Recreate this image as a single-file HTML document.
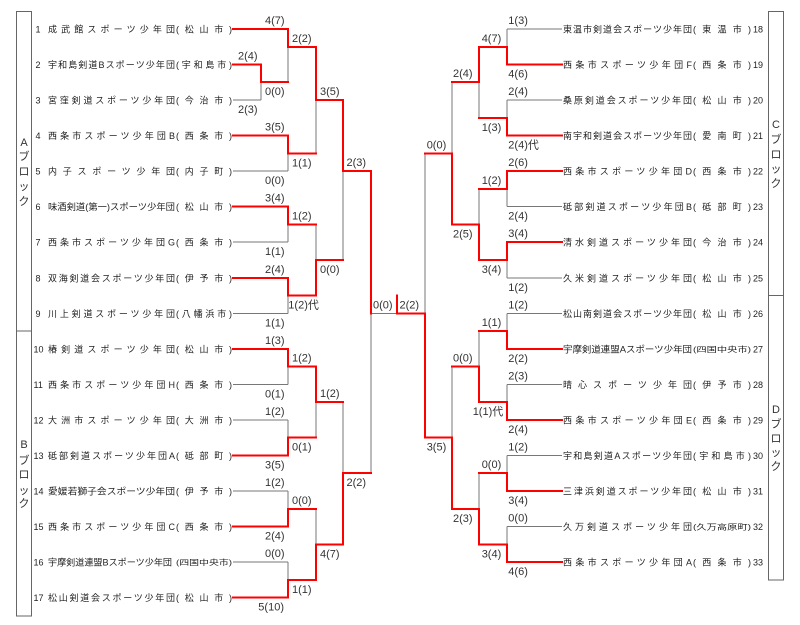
<!DOCTYPE html>
<html><head><meta charset="utf-8"><style>
html,body{margin:0;padding:0;background:#fff;}
svg{display:block;}
.n{font-family:"Liberation Sans","Noto Sans CJK JP",sans-serif;font-size:9px;fill:#222;}
.s{font-family:"Liberation Sans","Noto Sans CJK JP",sans-serif;font-size:11px;fill:#333;}
.b{font-family:"Liberation Sans","Noto Sans CJK JP",sans-serif;font-size:11px;fill:#333;text-anchor:middle;}
.g{stroke:#777;stroke-width:1;fill:none;}
.r{stroke:#ff0000;stroke-width:2;fill:none;stroke-linecap:square;stroke-linejoin:miter;}
</style></head><body>
<svg width="800" height="625" viewBox="0 0 800 625" xmlns="http://www.w3.org/2000/svg">
<rect x="16.5" y="11.5" width="15" height="604.5" fill="none" stroke="#666" stroke-width="1"/>
<line x1="16.5" y1="331" x2="31.5" y2="331" stroke="#666" stroke-width="1"/>
<rect x="768.5" y="11.5" width="15" height="568.5" fill="none" stroke="#666" stroke-width="1"/>
<line x1="768.5" y1="295.5" x2="783.5" y2="295.5" stroke="#666" stroke-width="1"/>
<g class="b">
<text x="24" y="146">A</text><text x="24" y="160">ブ</text><text x="24" y="175">ロ</text><text x="24" y="190">ッ</text><text x="24" y="205">ク</text>
<text x="24" y="448">B</text><text x="24" y="464">ブ</text><text x="24" y="478">ロ</text><text x="24" y="494">ッ</text><text x="24" y="507">ク</text>
<text x="776" y="128">C</text><text x="776" y="143">ブ</text><text x="776" y="158">ロ</text><text x="776" y="172.5">ッ</text><text x="776" y="187">ク</text>
<text x="776" y="413">D</text><text x="776" y="427.5">ブ</text><text x="776" y="442">ロ</text><text x="776" y="456">ッ</text><text x="776" y="470">ク</text>
</g>

<g class="g">
<line x1="233" y1="100" x2="261" y2="100"/><line x1="261" y1="82" x2="261" y2="100"/>
<line x1="288" y1="47" x2="288" y2="82"/>
<line x1="233" y1="171" x2="288" y2="171"/><line x1="288" y1="153.5" x2="288" y2="171"/>
<line x1="233" y1="242" x2="288" y2="242"/><line x1="288" y1="224.5" x2="288" y2="242"/>
<line x1="233" y1="313.5" x2="288" y2="313.5"/><line x1="288" y1="295.5" x2="288" y2="313.5"/>
<line x1="316" y1="100" x2="316" y2="153.5"/>
<line x1="316" y1="224.5" x2="316" y2="260"/>
<line x1="343" y1="171" x2="343" y2="260"/>
<line x1="233" y1="384.5" x2="288" y2="384.5"/><line x1="288" y1="366.5" x2="288" y2="384.5"/>
<line x1="233" y1="420" x2="288" y2="420"/><line x1="288" y1="420" x2="288" y2="437.5"/>
<line x1="316" y1="402" x2="316" y2="437.5"/>
<line x1="233" y1="491" x2="288" y2="491"/><line x1="288" y1="491" x2="288" y2="509"/>
<line x1="233" y1="562" x2="288" y2="562"/><line x1="288" y1="562" x2="288" y2="580"/>
<line x1="316" y1="509" x2="316" y2="544.5"/>
<line x1="343" y1="402" x2="343" y2="473"/>
<line x1="371" y1="313.5" x2="371" y2="473"/>
<line x1="371" y1="313.5" x2="397" y2="313.5"/>
<line x1="425" y1="153.5" x2="425" y2="313.5"/>
<line x1="507" y1="29" x2="562" y2="29"/><line x1="507" y1="29" x2="507" y2="47"/>
<line x1="507" y1="100" x2="562" y2="100"/><line x1="507" y1="100" x2="507" y2="118"/>
<line x1="479" y1="82" x2="479" y2="118"/>
<line x1="507" y1="206.5" x2="562" y2="206.5"/><line x1="507" y1="189" x2="507" y2="206.5"/>
<line x1="507" y1="278" x2="562" y2="278"/><line x1="507" y1="260" x2="507" y2="278"/>
<line x1="479" y1="189" x2="479" y2="224.5"/>
<line x1="452" y1="82" x2="452" y2="153.5"/>
<line x1="507" y1="313.5" x2="562" y2="313.5"/><line x1="507" y1="313.5" x2="507" y2="331"/>
<line x1="507" y1="384.5" x2="562" y2="384.5"/><line x1="507" y1="384.5" x2="507" y2="402"/>
<line x1="479" y1="331" x2="479" y2="366.5"/>
<line x1="507" y1="455.5" x2="562" y2="455.5"/><line x1="507" y1="455.5" x2="507" y2="473"/>
<line x1="507" y1="526.5" x2="562" y2="526.5"/><line x1="507" y1="526.5" x2="507" y2="544.5"/>
<line x1="479" y1="473" x2="479" y2="509"/>
<line x1="452" y1="366.5" x2="452" y2="437.5"/>
</g>

<g class="r">
<polyline points="233,29 288,29 288,47 316,47 316,100 343,100 343,171 371,171 371,313.5"/>
<polyline points="233,64.5 261,64.5 261,82 288,82"/>
<polyline points="233,135.5 288,135.5 288,153.5 316,153.5"/>
<polyline points="233,206.5 288,206.5 288,224.5 316,224.5"/>
<polyline points="233,278 288,278 288,295.5 316,295.5 316,260 343,260"/>
<polyline points="233,349 288,349 288,366.5 316,366.5 316,402 343,402"/>
<polyline points="233,455.5 288,455.5 288,437.5 316,437.5"/>
<polyline points="233,526.5 288,526.5 288,509 316,509"/>
<polyline points="233,597.5 288,597.5 288,580 316,580 316,544.5 343,544.5 343,473 371,473"/>
<polyline points="397,295.5 397,313.5 425,313.5 425,437.5 452,437.5 452,509 479,509 479,544.5 507,544.5 507,562 562,562"/>
<polyline points="562,64.5 507,64.5 507,47 479,47 479,82 452,82"/>
<polyline points="562,135.5 507,135.5 507,118 479,118"/>
<polyline points="562,171 507,171 507,189 479,189"/>
<polyline points="562,242 507,242 507,260 479,260 479,224.5 452,224.5 452,153.5 425,153.5"/>
<polyline points="562,349 507,349 507,331 479,331"/>
<polyline points="562,420 507,420 507,402 479,402 479,366.5 452,366.5"/>
<polyline points="562,491 507,491 507,473 479,473"/>
</g>

<g class="n">
<text x="35.5" y="32.5">1</text><text x="48" y="32.5" textLength="127" lengthAdjust="spacing">成武館スポーツ少年団</text><text x="176" y="32.5" textLength="56" lengthAdjust="spacing">(松山市)</text>
<text x="35.5" y="68">2</text><text x="48" y="68" textLength="127" lengthAdjust="spacing">宇和島剣道Bスポーツ少年団</text><text x="176" y="68" textLength="56" lengthAdjust="spacing">(宇和島市)</text>
<text x="35.5" y="103.5">3</text><text x="48" y="103.5" textLength="127" lengthAdjust="spacing">宮窪剣道スポーツ少年団</text><text x="176" y="103.5" textLength="56" lengthAdjust="spacing">(今治市)</text>
<text x="35.5" y="139">4</text><text x="48" y="139" textLength="127" lengthAdjust="spacing">西条市スポーツ少年団B</text><text x="176" y="139" textLength="56" lengthAdjust="spacing">(西条市)</text>
<text x="35.5" y="174.5">5</text><text x="48" y="174.5" textLength="127" lengthAdjust="spacing">内子スポーツ少年団</text><text x="176" y="174.5" textLength="56" lengthAdjust="spacing">(内子町)</text>
<text x="35.5" y="210">6</text><text x="48" y="210" textLength="127" lengthAdjust="spacingAndGlyphs">味酒剣道(第一)スポーツ少年団</text><text x="176" y="210" textLength="56" lengthAdjust="spacing">(松山市)</text>
<text x="35.5" y="245.5">7</text><text x="48" y="245.5" textLength="127" lengthAdjust="spacing">西条市スポーツ少年団G</text><text x="176" y="245.5" textLength="56" lengthAdjust="spacing">(西条市)</text>
<text x="35.5" y="281.5">8</text><text x="48" y="281.5" textLength="127" lengthAdjust="spacing">双海剣道会スポーツ少年団</text><text x="176" y="281.5" textLength="56" lengthAdjust="spacing">(伊予市)</text>
<text x="35.5" y="317">9</text><text x="48" y="317" textLength="127" lengthAdjust="spacing">川上剣道スポーツ少年団</text><text x="176" y="317" textLength="56" lengthAdjust="spacing">(八幡浜市)</text>
<text x="33.5" y="352.5">10</text><text x="48" y="352.5" textLength="127" lengthAdjust="spacing">椿剣道スポーツ少年団</text><text x="176" y="352.5" textLength="56" lengthAdjust="spacing">(松山市)</text>
<text x="33.5" y="388">11</text><text x="48" y="388" textLength="127" lengthAdjust="spacing">西条市スポーツ少年団H</text><text x="176" y="388" textLength="56" lengthAdjust="spacing">(西条市)</text>
<text x="33.5" y="423.5">12</text><text x="48" y="423.5" textLength="127" lengthAdjust="spacing">大洲市スポーツ少年団</text><text x="176" y="423.5" textLength="56" lengthAdjust="spacing">(大洲市)</text>
<text x="33.5" y="459">13</text><text x="48" y="459" textLength="127" lengthAdjust="spacing">砥部剣道スポーツ少年団A</text><text x="176" y="459" textLength="56" lengthAdjust="spacing">(砥部町)</text>
<text x="33.5" y="494.5">14</text><text x="48" y="494.5" textLength="127" lengthAdjust="spacingAndGlyphs">愛媛若獅子会スポーツ少年団</text><text x="176" y="494.5" textLength="56" lengthAdjust="spacing">(伊予市)</text>
<text x="33.5" y="530">15</text><text x="48" y="530" textLength="127" lengthAdjust="spacing">西条市スポーツ少年団C</text><text x="176" y="530" textLength="56" lengthAdjust="spacing">(西条市)</text>
<text x="33.5" y="565.5">16</text><text x="48" y="565.5" textLength="124" lengthAdjust="spacingAndGlyphs">宇摩剣道連盟Bスポーツ少年団</text><text x="176" y="565" textLength="56" lengthAdjust="spacingAndGlyphs" style="font-size:7.5px">(四国中央市)</text>
<text x="33.5" y="601">17</text><text x="48" y="601" textLength="127" lengthAdjust="spacing">松山剣道会スポーツ少年団</text><text x="176" y="601" textLength="56" lengthAdjust="spacing">(松山市)</text>
</g>

<g class="n">
<text x="563" y="32.5" textLength="129" lengthAdjust="spacing">東温市剣道会スポーツ少年団</text><text x="693" y="32.5" textLength="58" lengthAdjust="spacing">(東温市)</text><text x="753" y="32.5">18</text>
<text x="563" y="68" textLength="129" lengthAdjust="spacing">西条市スポーツ少年団F</text><text x="693" y="68" textLength="58" lengthAdjust="spacing">(西条市)</text><text x="753" y="68">19</text>
<text x="563" y="103.5" textLength="129" lengthAdjust="spacing">桑原剣道会スポーツ少年団</text><text x="693" y="103.5" textLength="58" lengthAdjust="spacing">(松山市)</text><text x="753" y="103.5">20</text>
<text x="563" y="139" textLength="129" lengthAdjust="spacing">南宇和剣道会スポーツ少年団</text><text x="693" y="139" textLength="58" lengthAdjust="spacing">(愛南町)</text><text x="753" y="139">21</text>
<text x="563" y="174.5" textLength="129" lengthAdjust="spacing">西条市スポーツ少年団D</text><text x="693" y="174.5" textLength="58" lengthAdjust="spacing">(西条市)</text><text x="753" y="174.5">22</text>
<text x="563" y="210" textLength="129" lengthAdjust="spacing">砥部剣道スポーツ少年団B</text><text x="693" y="210" textLength="58" lengthAdjust="spacing">(砥部町)</text><text x="753" y="210">23</text>
<text x="563" y="245.5" textLength="129" lengthAdjust="spacing">清水剣道スポーツ少年団</text><text x="693" y="245.5" textLength="58" lengthAdjust="spacing">(今治市)</text><text x="753" y="245.5">24</text>
<text x="563" y="281.5" textLength="129" lengthAdjust="spacing">久米剣道スポーツ少年団</text><text x="693" y="281.5" textLength="58" lengthAdjust="spacing">(松山市)</text><text x="753" y="281.5">25</text>
<text x="563" y="317" textLength="129" lengthAdjust="spacing">松山南剣道会スポーツ少年団</text><text x="693" y="317" textLength="58" lengthAdjust="spacing">(松山市)</text><text x="753" y="317">26</text>
<text x="563" y="352.5" textLength="129" lengthAdjust="spacingAndGlyphs">宇摩剣道連盟Aスポーツ少年団</text><text x="693" y="352" textLength="58" lengthAdjust="spacingAndGlyphs" style="font-size:7.5px">(四国中央市)</text><text x="753" y="352.5">27</text>
<text x="563" y="388" textLength="129" lengthAdjust="spacing">晴心スポーツ少年団</text><text x="693" y="388" textLength="58" lengthAdjust="spacing">(伊予市)</text><text x="753" y="388">28</text>
<text x="563" y="423.5" textLength="129" lengthAdjust="spacing">西条市スポーツ少年団E</text><text x="693" y="423.5" textLength="58" lengthAdjust="spacing">(西条市)</text><text x="753" y="423.5">29</text>
<text x="563" y="459" textLength="129" lengthAdjust="spacing">宇和島剣道Aスポーツ少年団</text><text x="693" y="459" textLength="58" lengthAdjust="spacing">(宇和島市)</text><text x="753" y="459">30</text>
<text x="563" y="494.5" textLength="129" lengthAdjust="spacing">三津浜剣道スポーツ少年団</text><text x="693" y="494.5" textLength="58" lengthAdjust="spacing">(松山市)</text><text x="753" y="494.5">31</text>
<text x="563" y="530" textLength="129" lengthAdjust="spacing">久万剣道スポーツ少年団</text><text x="693" y="529.5" textLength="58" lengthAdjust="spacingAndGlyphs" style="font-size:7.5px">(久万高原町)</text><text x="753" y="530">32</text>
<text x="563" y="565.5" textLength="129" lengthAdjust="spacing">西条市スポーツ少年団A</text><text x="693" y="565.5" textLength="58" lengthAdjust="spacing">(西条市)</text><text x="753" y="565.5">33</text>
</g>

<g class="s">
<text x="265" y="24">4(7)</text>
<text x="292" y="42">2(2)</text>
<text x="238" y="59.5">2(4)</text>
<text x="265" y="95">0(0)</text>
<text x="238" y="113">2(3)</text>
<text x="320" y="95">3(5)</text>
<text x="265" y="130.5">3(5)</text>
<text x="292" y="166.5">1(1)</text>
<text x="346.5" y="166">2(3)</text>
<text x="265" y="184">0(0)</text>
<text x="265" y="201.5">3(4)</text>
<text x="292" y="219.5">1(2)</text>
<text x="265" y="255">1(1)</text>
<text x="320" y="273">0(0)</text>
<text x="265" y="273">2(4)</text>
<text x="288.3" y="308.5">1(2)代</text>
<text x="265" y="326.5">1(1)</text>
<text x="373" y="308.5">0(0)</text>
<text x="399.5" y="308.5">2(2)</text>
<text x="265" y="344">1(3)</text>
<text x="292" y="361.5">1(2)</text>
<text x="265" y="397.5">0(1)</text>
<text x="320" y="397">1(2)</text>
<text x="265" y="415">1(2)</text>
<text x="292" y="450.5">0(1)</text>
<text x="265" y="468.5">3(5)</text>
<text x="346.5" y="486">2(2)</text>
<text x="265" y="486">1(2)</text>
<text x="292" y="504">0(0)</text>
<text x="265" y="539.5">2(4)</text>
<text x="320" y="557.5">4(7)</text>
<text x="265" y="557">0(0)</text>
<text x="292" y="593">1(1)</text>
<text x="258.3" y="610.5">5(10)</text>
</g>

<g class="s">
<text x="508.3" y="24">1(3)</text>
<text x="481.7" y="42">4(7)</text>
<text x="508.3" y="77.5">4(6)</text>
<text x="453" y="77">2(4)</text>
<text x="508.3" y="95">2(4)</text>
<text x="481.7" y="131">1(3)</text>
<text x="508.3" y="148.5">2(4)代</text>
<text x="426.7" y="148.5">0(0)</text>
<text x="508.3" y="166">2(6)</text>
<text x="481.7" y="184">1(2)</text>
<text x="508.3" y="219.5">2(4)</text>
<text x="453" y="237.5">2(5)</text>
<text x="508.3" y="237">3(4)</text>
<text x="481.7" y="273">3(4)</text>
<text x="508.3" y="291">1(2)</text>
<text x="508.3" y="308.5">1(2)</text>
<text x="481.7" y="326">1(1)</text>
<text x="508.3" y="362">2(2)</text>
<text x="453" y="361.5">0(0)</text>
<text x="508.3" y="379.5">2(3)</text>
<text x="472.7" y="415">1(1)代</text>
<text x="508.3" y="433">2(4)</text>
<text x="426.7" y="450.5">3(5)</text>
<text x="508.3" y="450.5">1(2)</text>
<text x="481.7" y="468">0(0)</text>
<text x="508.3" y="504">3(4)</text>
<text x="453" y="522">2(3)</text>
<text x="508.3" y="521.5">0(0)</text>
<text x="481.7" y="557.5">3(4)</text>
<text x="508.3" y="575">4(6)</text>
</g>
</svg>
</body></html>
